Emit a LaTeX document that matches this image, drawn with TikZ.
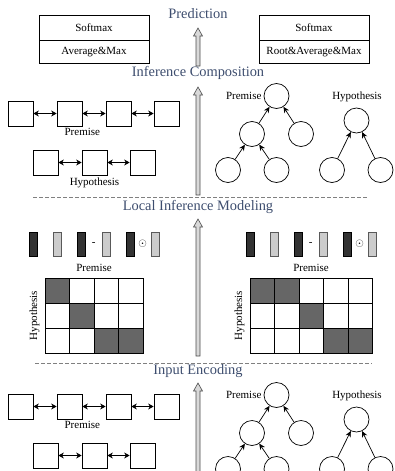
\documentclass[tikz,border=0pt]{standalone}
\usepackage{fontspec}
\setmainfont{Liberation Serif}
\usetikzlibrary{arrows.meta,calc,positioning}

\definecolor{titleblue}{HTML}{3D4D6E}
\definecolor{cellgray}{HTML}{666666}
\definecolor{vecdark}{HTML}{333333}
\definecolor{veclight}{HTML}{CCCCCC}

\tikzset{
  stage/.style={text=titleblue, font=\fontsize{14.4}{16}\selectfont, inner sep=1pt},
  lbl/.style={font=\fontsize{11}{13}\selectfont, inner sep=1pt},
  outbox/.style={draw, minimum width=110pt, inner sep=0pt, line width=0.7pt, font=\fontsize{11}{13}\selectfont},
  wordbox/.style={draw, minimum size=25pt, inner sep=0pt, line width=0.7pt},
  treenode/.style={draw, circle, minimum size=25pt, inner sep=0pt, line width=0.7pt},
  link/.style={{Stealth[length=5.5pt,width=6pt]}-{Stealth[length=5.5pt,width=6pt]}, line width=0.9pt},
  upedge/.style={-{Stealth[length=6pt,width=5.5pt]}, line width=0.7pt},
  sepline/.style={dash pattern=on 4pt off 2pt, draw=gray, line width=0.6pt},
  hollow/.style={draw=gray!60!black, fill=gray!30, line width=0.6pt},
  vdark/.style={draw, fill=vecdark, minimum width=8pt, minimum height=24pt, inner sep=0pt, line width=0.6pt},
  vlight/.style={draw=gray!70!black, fill=veclight, minimum width=8pt, minimum height=24pt, inner sep=0pt, line width=0.6pt},
  cell/.style={draw, minimum width=24.5pt, minimum height=25pt, inner sep=0pt, line width=0.7pt}
}

% hollow upward arrow: #1 tip, #2 tail
\newcommand{\flowarrow}[2]{
  \draw[hollow] ($(#2)+(-2,0)$) -- ($(#1)+(-2,8)$) -- ($(#1)+(-4.5,8)$) -- (#1)
    -- ($(#1)+(4.5,8)$) -- ($(#1)+(2,8)$) -- ($(#2)+(2,0)$) -- cycle;
}

\begin{document}
\begin{tikzpicture}[x=1pt, y=-1pt]
  \useasboundingbox (0,0) rectangle (394,471);
  \clip (0,0) rectangle (394,471);

  % Stage titles
  \node[stage] (pred) at (198,14) {Prediction};
  \node[stage] (infcomp) at (198,73) {Inference Composition};
  \node[stage] (locinf) at (198,207) {Local Inference Modeling};
  \node[stage] (inenc) at (198,371) {Input Encoding};

  % Flow arrows between stages
  \coordinate (tip1) at ($(pred)+(0,14)$);
  \coordinate (tail1) at ($(infcomp)+(0,-7)$);
  \coordinate (tip2) at ($(infcomp)+(0,14)$);
  \coordinate (tail2) at ($(locinf)+(0,-12)$);
  \coordinate (tip3) at ($(locinf)+(0,12)$);
  \coordinate (tail3) at ($(inenc)+(0,-15)$);
  \coordinate (tip4) at ($(inenc)+(0,12)$);
  \coordinate (tail4) at ($(inenc)+(0,110)$);
  \flowarrow{tip1}{tail1}
  \flowarrow{tip2}{tail2}
  \flowarrow{tip3}{tail3}
  \flowarrow{tip4}{tail4}

  % Separators
  \draw[sepline] (33,197) -- (368,197);
  \draw[sepline] (35,363) -- (372,363);

  % Output boxes
  \node[outbox, minimum height=25pt] (smL) at (94,27.5) {Softmax};
  \node[outbox, minimum height=23pt, anchor=north] (aggL) at (smL.south) {Average\&Max};
  \node[outbox, minimum height=25pt] (smR) at (314,27.5) {Softmax};
  \node[outbox, minimum height=23pt, anchor=north] (aggR) at (smR.south) {Root\&Average\&Max};

  % Sequence chains (composition and encoding)
  \foreach \y/\s in {113.5/c, 406.5/e}
  {
    \foreach \x [count=\i] in {20.5,69.5,118.5,166.5}
      \node[wordbox] (p\s\i) at (\x,\y) {};
    \foreach \i/\j in {1/2,2/3,3/4}
      \draw[link] (p\s\i) -- (p\s\j);
    \node[lbl, below=1pt of p\s2.south east] {Premise};
    \foreach \x [count=\i] in {45.5,94.5,142.5}
      \node[wordbox] (h\s\i) at (\x,\y+49) {};
    \foreach \i/\j in {1/2,2/3}
      \draw[link] (h\s\i) -- (h\s\j);
  }
  \node[lbl, below=1pt of hc2] {Hypothesis};

  % Trees (composition and encoding)
  \foreach \d/\s in {0/c, 299/e}
  {
    \node[treenode] (tp\s1) at (276.5,96+\d) {};
    \node[treenode] (tp\s2) at (252,134+\d) {};
    \node[treenode] (tp\s3) at (301,134+\d) {};
    \node[treenode] (tp\s4) at (228,170+\d) {};
    \node[treenode] (tp\s5) at (276.5,170+\d) {};
    \draw[upedge] (tp\s2) -- (tp\s1);
    \draw[upedge] (tp\s3) -- (tp\s1);
    \draw[upedge] (tp\s4) -- (tp\s2);
    \draw[upedge] (tp\s5) -- (tp\s2);
    \node[lbl, left=1pt of tp\s1] {Premise};
    \node[treenode] (th\s1) at (356.5,120.5+\d) {};
    \node[treenode] (th\s2) at (332,170+\d) {};
    \node[treenode] (th\s3) at (380.5,170+\d) {};
    \draw[upedge] (th\s2) -- (th\s1);
    \draw[upedge] (th\s3) -- (th\s1);
    \node[lbl] at (357,97+\d) {Hypothesis};
  }

  % Local inference: vector operations
  \foreach \o/\s in {0/L, 217/R}
  {
    \node[vdark] (va\s) at (33.3+\o,244) {};
    \node[vlight] (vb\s) at (57.5+\o,244) {};
    \node[vdark] (vc\s) at (81.7+\o,244) {};
    \node[vlight] (vd\s) at (105.8+\o,244) {};
    \node[vdark] (ve\s) at (130.5+\o,244) {};
    \node[vlight] (vf\s) at (155+\o,244) {};
    \node[lbl] at ($(vc\s)!0.5!(vd\s)$) {-};
    \node[lbl] at ($(ve\s)!0.5!(vf\s)$) {$\odot$};
  }
  \node[lbl] at (94,268) {Premise};
  \node[lbl] at (311,268) {Premise};

  % Attention matrices
  \foreach \row [count=\r from 0] in {{100,0,0,0},{0,100,0,0},{0,0,100,100}}
    \foreach \v [count=\c from 0] in \row
      \node[cell, fill=cellgray!\v] (mL-\r-\c) at ({45+24.5*\c+12.25},{278+25*\r+12.5}) {};
  \foreach \row [count=\r from 0] in {{100,100,0,0,0},{0,0,100,0,0},{0,0,0,100,100}}
    \foreach \v [count=\c from 0] in \row
      \node[cell, fill=cellgray!\v] (mR-\r-\c) at ({250+24.5*\c+12.25},{278+25*\r+12.5}) {};
  \node[lbl, rotate=90, left=4pt of mL-1-0, anchor=south] {Hypothesis};
  \node[lbl, rotate=90, left=4pt of mR-1-0, anchor=south] {Hypothesis};
\end{tikzpicture}
\end{document}
